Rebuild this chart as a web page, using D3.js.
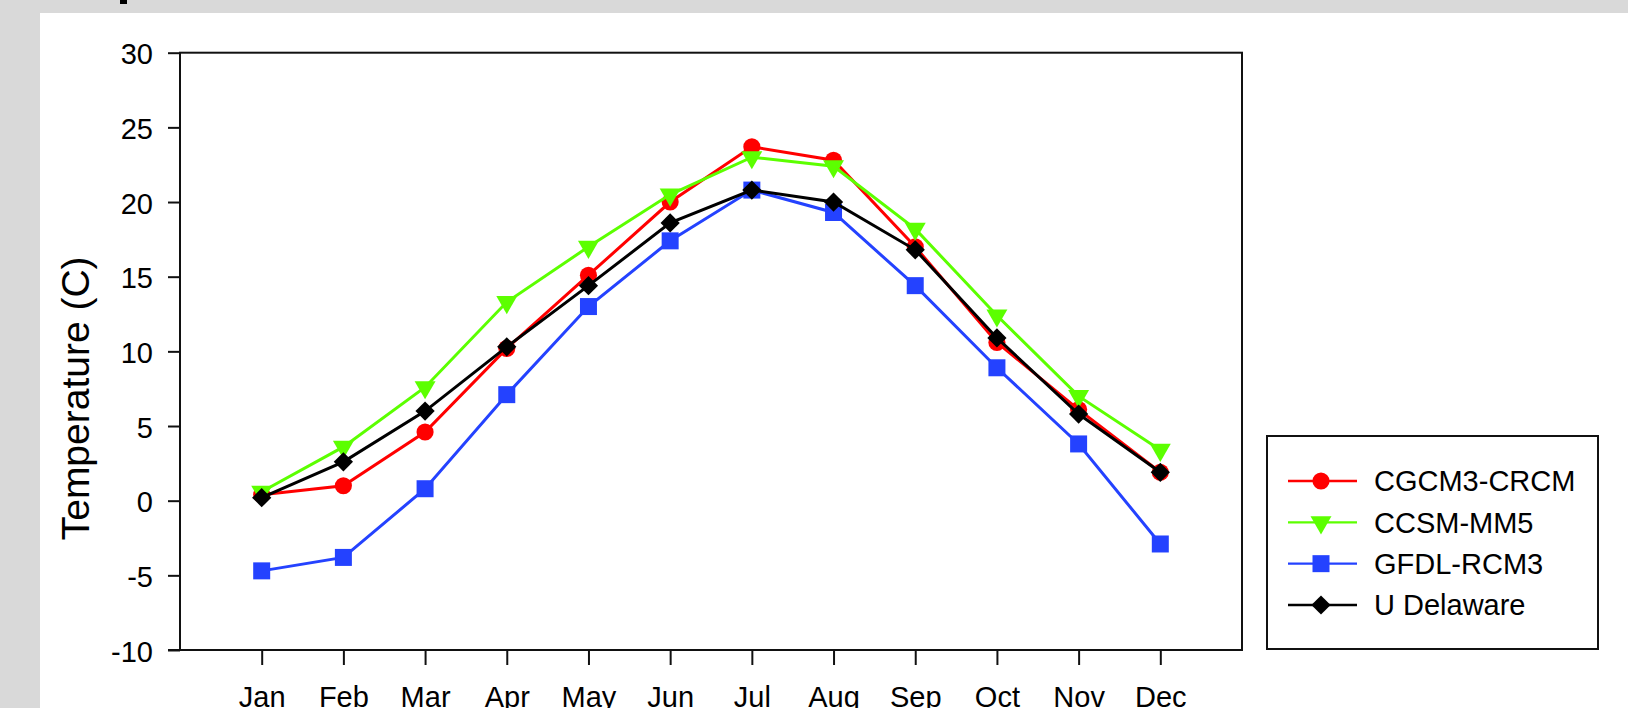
<!DOCTYPE html>
<html>
<head>
<meta charset="utf-8">
<script src="https://cdn.jsdelivr.net/npm/d3@7"></script>
<style>
  html, body { margin: 0; padding: 0; background: #d9d9d9; }
  svg { display: block; }
  text { font-family: "Liberation Sans", Arial, sans-serif; fill: #000; }
</style>
</head>
<body>
<svg id="chart" width="1628" height="708"></svg>
<script>
// Monthly mean temperature: three regional climate models vs. observations
const months = ["Jan", "Feb", "Mar", "Apr", "May", "Jun", "Jul", "Aug", "Sep", "Oct", "Nov", "Dec"];
const cgcm3Crcm = [0.4, 1.0, 4.6, 10.2, 15.1, 20.0, 23.7, 22.8, 17.0, 10.6, 6.1, 1.9];
const ccsmMm5   = [0.6, 3.6, 7.6, 13.3, 17.0, 20.5, 23.0, 22.4, 18.2, 12.4, 7.0, 3.4];
const gfdlRcm3  = [-4.7, -3.8, 0.8, 7.1, 13.0, 17.4, 20.8, 19.3, 14.4, 8.9, 3.8, -2.9];
const uDelaware = [0.2, 2.6, 6.0, 10.3, 14.4, 18.6, 20.8, 20.0, 16.8, 10.9, 5.8, 1.9];
const seriesNames = ["CGCM3-CRCM", "CCSM-MM5", "GFDL-RCM3", "U Delaware"];
const yTicks = [-10, -5, 0, 5, 10, 15, 20, 25, 30];

const series = [
  { name: seriesNames[0], values: cgcm3Crcm, color: "#ff0000", shape: "circle" },
  { name: seriesNames[1], values: ccsmMm5,   color: "#5cff00", shape: "triangle" },
  { name: seriesNames[2], values: gfdlRcm3,  color: "#2442ff", shape: "square" },
  { name: seriesNames[3], values: uDelaware, color: "#000000", shape: "diamond" }
];

const svg = d3.select("#chart");

// page panel
svg.append("rect").attr("x", 0).attr("y", 0).attr("width", 1628).attr("height", 708).attr("fill", "#d9d9d9");
svg.append("rect").attr("x", 40).attr("y", 13).attr("width", 1588).attr("height", 695).attr("fill", "#ffffff");
// fragment of heading above the panel
svg.append("rect").attr("x", 120).attr("y", 0).attr("width", 7).attr("height", 4).attr("fill", "#000");

const plot = { left: 180, right: 1242, top: 52.7, bottom: 650 };

const x = d3.scalePoint().domain(months).range([plot.left, plot.right]).padding(1);
const y = d3.scaleLinear().domain([-10, 30]).range([plot.bottom, plot.top]);

// frame
svg.append("rect")
  .attr("x", plot.left).attr("y", plot.top)
  .attr("width", plot.right - plot.left).attr("height", plot.bottom - plot.top)
  .attr("fill", "none").attr("stroke", "#111").attr("stroke-width", 2);

// y axis (plain hyphen for negatives)
const yAxis = svg.append("g")
  .attr("transform", `translate(${plot.left},0)`)
  .call(d3.axisLeft(y).tickValues(yTicks).tickFormat(d => String(d))
    .tickSize(12).tickSizeOuter(0).tickPadding(15));
yAxis.select(".domain").remove();
yAxis.selectAll(".tick line").attr("stroke", "#111").attr("stroke-width", 2);
yAxis.selectAll(".tick text").attr("font-size", 29).attr("dy", "0.38em")
  .style("font-family", "'Liberation Sans', Arial, sans-serif");

// x axis
const xAxis = svg.append("g")
  .attr("transform", `translate(0,${plot.bottom})`)
  .call(d3.axisBottom(x).tickSize(15).tickSizeOuter(0).tickPadding(21));
xAxis.select(".domain").remove();
xAxis.selectAll(".tick line").attr("stroke", "#111").attr("stroke-width", 2);
xAxis.selectAll(".tick text").attr("font-size", 29)
  .style("font-family", "'Liberation Sans', Arial, sans-serif");

// extend the bottom line to meet the outer tick at -10
svg.append("line").attr("x1", plot.left - 12).attr("x2", plot.right + 1)
  .attr("y1", plot.bottom).attr("y2", plot.bottom).attr("stroke", "#111").attr("stroke-width", 2);

// y axis title
svg.append("text")
  .attr("transform", `translate(89,${(plot.top + plot.bottom) / 2 + 47}) rotate(-90)`)
  .attr("text-anchor", "middle")
  .attr("font-size", 39)
  .text("Temperature (C)");

// marker generator
function marker(sel, shape, color) {
  if (shape === "circle") {
    sel.append("path").attr("d", d3.symbol(d3.symbolCircle, 230)()).attr("fill", color);
  } else if (shape === "triangle") {
    sel.append("path").attr("d", d3.symbol(d3.symbolTriangle, 190)())
      .attr("transform", "rotate(180)").attr("fill", color);
  } else if (shape === "square") {
    sel.append("path").attr("d", d3.symbol(d3.symbolSquare, 289)()).attr("fill", color);
  } else {
    sel.append("path").attr("d", d3.symbol(d3.symbolSquare, 185)())
      .attr("transform", "rotate(45)").attr("fill", color);
  }
}

const line = d3.line().x((d, i) => x(months[i])).y(d => y(d));

series.forEach(s => {
  const g = svg.append("g");
  g.append("path").datum(s.values)
    .attr("d", line)
    .attr("fill", "none")
    .attr("stroke", s.color)
    .attr("stroke-width", 3);
  g.selectAll("g.pt").data(s.values).enter().append("g")
    .attr("class", "pt")
    .attr("transform", (d, i) => `translate(${x(months[i])},${y(d)})`)
    .each(function () { marker(d3.select(this), s.shape, s.color); });
});

// legend
const legend = svg.append("g");
legend.append("rect").attr("x", 1267).attr("y", 436).attr("width", 331).attr("height", 213)
  .attr("fill", "#fff").attr("stroke", "#111").attr("stroke-width", 2);
const rowY = d3.scalePoint().domain(seriesNames).range([481, 605]);
series.forEach(s => {
  const row = legend.append("g").attr("transform", `translate(0,${rowY(s.name)})`);
  row.append("line").attr("x1", 1288).attr("x2", 1357).attr("y1", 0).attr("y2", 0)
    .attr("stroke", s.color).attr("stroke-width", 2.4);
  const m = row.append("g").attr("transform", "translate(1321,0)");
  marker(m, s.shape, s.color);
  row.append("text").attr("x", 1374).attr("y", 0).attr("dy", "0.36em")
    .attr("font-size", 29).text(s.name);
});
</script>
</body>
</html>
